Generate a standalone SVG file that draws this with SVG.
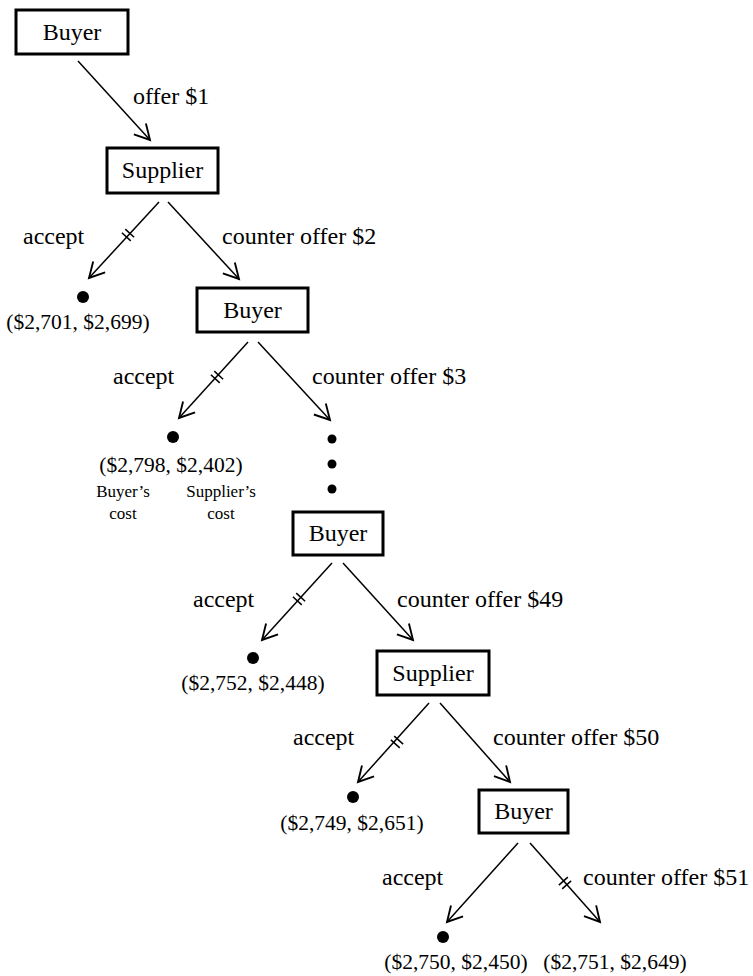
<svg xmlns="http://www.w3.org/2000/svg" width="753" height="976" viewBox="0 0 753 976">
<style>
.box{fill:#fff;stroke:#000;stroke-width:3}
.nt{font-family:"Liberation Serif","Times New Roman",serif;font-size:24px;text-anchor:middle;fill:#000}
.lb{font-family:"Liberation Serif","Times New Roman",serif;font-size:24px;fill:#000}
.po{font-family:"Liberation Serif","Times New Roman",serif;font-size:21.5px;text-anchor:middle;fill:#000}
.sm{font-family:"Liberation Serif","Times New Roman",serif;font-size:17px;text-anchor:middle;fill:#000}
.ed{stroke:#000;stroke-width:1.5;fill:none;marker-end:url(#ah)}
.tk{stroke:#000;stroke-width:1.5}
</style>
<defs>
<marker id="ah" markerUnits="userSpaceOnUse" markerWidth="20" markerHeight="20" refX="0" refY="0" viewBox="-14 -8 16 16" orient="auto">
<path d="M-12,-6.5 L0,0 L-12,6.5" fill="none" stroke="#000" stroke-width="1.5"/>
</marker>
<g id="tick"><line class="tk" x1="-2.5" y1="-6" x2="-2.5" y2="6"/><line class="tk" x1="2.5" y1="-6" x2="2.5" y2="6"/></g>
</defs>

<g id="connectors">
<line class="ed" x1="78" y1="61" x2="150" y2="140"/>
<line class="ed" x1="159" y1="202" x2="89" y2="278"/>
<line class="ed" x1="168" y1="202" x2="239" y2="279"/>
<line class="ed" x1="248" y1="342" x2="179" y2="418"/>
<line class="ed" x1="258" y1="342" x2="330" y2="420"/>
<line class="ed" x1="332" y1="563" x2="262" y2="640"/>
<line class="ed" x1="343" y1="563" x2="413" y2="640"/>
<line class="ed" x1="429" y1="703" x2="358" y2="782"/>
<line class="ed" x1="440" y1="703" x2="510" y2="782"/>
<line class="ed" x1="518" y1="843" x2="447" y2="922"/>
<line class="ed" x1="530" y1="843" x2="600" y2="922"/>
<use href="#tick" transform="translate(128,235) rotate(132.6)"/>
<use href="#tick" transform="translate(217,377) rotate(132.6)"/>
<use href="#tick" transform="translate(299,599) rotate(132.3)"/>
<use href="#tick" transform="translate(397,742) rotate(132)"/>
<use href="#tick" transform="translate(565,883) rotate(48.5)"/>
</g>

<g id="n1"><rect class="box" x="16" y="10" width="112" height="44"/><text class="nt" x="72" y="40">Buyer</text></g>
<g id="n2"><rect class="box" x="107" y="148" width="111" height="45"/><text class="nt" x="162.5" y="178">Supplier</text></g>
<g id="n3"><rect class="box" x="197" y="288" width="111" height="44"/><text class="nt" x="252.5" y="318">Buyer</text></g>
<g id="n4"><rect class="box" x="293" y="512" width="90" height="43"/><text class="nt" x="338" y="541">Buyer</text></g>
<g id="n5"><rect class="box" x="377" y="651" width="112" height="44"/><text class="nt" x="433" y="681">Supplier</text></g>
<g id="n6"><rect class="box" x="479" y="790" width="89" height="43"/><text class="nt" x="523.5" y="819">Buyer</text></g>

<g id="labels">
<text class="lb" x="133" y="104">offer $1</text>
<text class="lb" x="23" y="244">accept</text>
<text class="lb" x="222" y="244">counter offer $2</text>
<text class="lb" x="113" y="384">accept</text>
<text class="lb" x="312" y="384">counter offer $3</text>
<text class="lb" x="193" y="607">accept</text>
<text class="lb" x="397" y="607">counter offer $49</text>
<text class="lb" x="293" y="745">accept</text>
<text class="lb" x="493" y="745">counter offer $50</text>
<text class="lb" x="382" y="885">accept</text>
<text class="lb" x="583" y="885">counter offer $51</text>
</g>

<g id="t2"><circle cx="83" cy="297" r="6"/><text class="po" x="78" y="329">($2,701, $2,699)</text></g>
<g id="t3"><circle cx="173" cy="437" r="6"/><text class="po" x="171" y="472">($2,798, $2,402)</text>
<text class="sm" x="123" y="497">Buyer’s</text><text class="sm" x="123" y="519">cost</text>
<text class="sm" x="221" y="497">Supplier’s</text><text class="sm" x="221" y="519">cost</text></g>
<g id="ellipsis"><circle cx="332" cy="439" r="4.5"/><circle cx="332" cy="464" r="4.5"/><circle cx="332" cy="489" r="4.5"/></g>
<g id="t4"><circle cx="253" cy="658" r="6"/><text class="po" x="253" y="690">($2,752, $2,448)</text></g>
<g id="t5"><circle cx="353" cy="797" r="6"/><text class="po" x="352" y="830">($2,749, $2,651)</text></g>
<g id="t6"><circle cx="443" cy="937" r="6"/><text class="po" x="456" y="969">($2,750, $2,450)</text></g>
<g id="t7"><text class="po" x="615" y="969">($2,751, $2,649)</text></g>
</svg>
